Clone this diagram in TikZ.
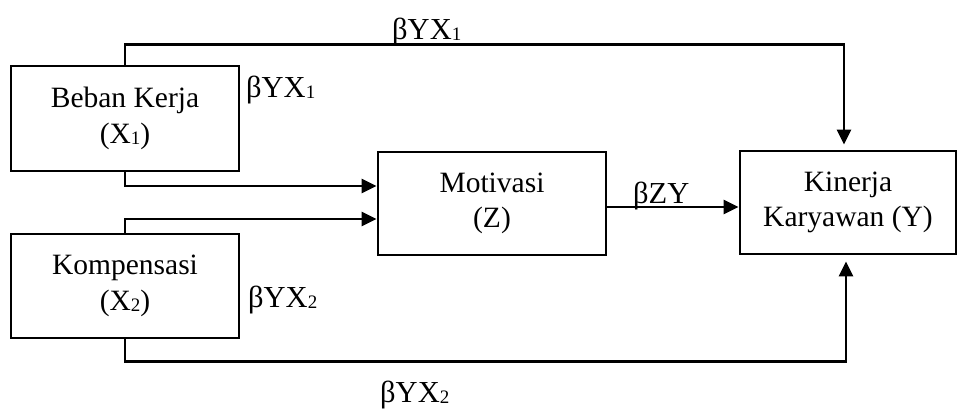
\documentclass[tikz,border=0pt]{standalone}
\usepackage{fontspec}
\setmainfont{Liberation Serif}
\usetikzlibrary{arrows.meta,calc}
\newcommand{\subdig}[1]{\raisebox{-1.2pt}{\fontsize{19}{19}\selectfont #1}}
\tikzset{
  box/.style={draw,line width=2.8pt,align=center,inner sep=0pt,font=\fontsize{29.5}{35.5}\selectfont},
  conn/.style={line width=2.8pt},
  arr/.style={conn,-{Triangle[length=15pt,width=14pt]}},
  lab/.style={anchor=base west,inner sep=0pt,font=\fontsize{30.5}{32}\selectfont}
}
\begin{document}
\begin{tikzpicture}[x=1pt,y=-1pt]
\useasboundingbox[fill=white] (0,0) rectangle (958,410);
\node[box,minimum width=228pt,minimum height=105pt] (X1) at (125,118.5) {Beban Kerja\\(X\subdig{1})};
\node[box,minimum width=228pt,minimum height=104pt] (X2) at (125,286) {Kompensasi\\(X\subdig{2})};
\node[box,minimum width=228pt,minimum height=103pt] (Z) at (492,203.5) {Motivasi\\(Z)};
\node[box,minimum width=216pt,minimum height=103pt] (Y) at (848,202.5) {Kinerja\\Karyawan (Y)};
\draw[arr,shorten >=5pt] (X1.north) -- ++(0,-20) -| ([xshift=-4pt]Y.north);
\draw[arr] (X1.south) |- ([yshift=17.5pt]Z.west);
\draw[arr] (X2.north) |- ([yshift=-15.5pt]Z.west);
\draw[arr] ([yshift=-3.5pt]Z.east) -- ([yshift=-3.5pt]Z.east -| Y.west);
\draw[arr,shorten >=6pt] (X2.south) -- ++(0,22) -| ([xshift=-2pt]Y.south);
\node[lab] (l1) at (392,39) {βYX\subdig{1}};
\node[lab] (l2) at (246,97) {βYX\subdig{1}};
\node[lab] (l3) at (633,203) {βZY};
\node[lab] (l4) at (248,307) {βYX\subdig{2}};
\node[lab] (l5) at (380,402) {βYX\subdig{2}};
\end{tikzpicture}
\end{document}
